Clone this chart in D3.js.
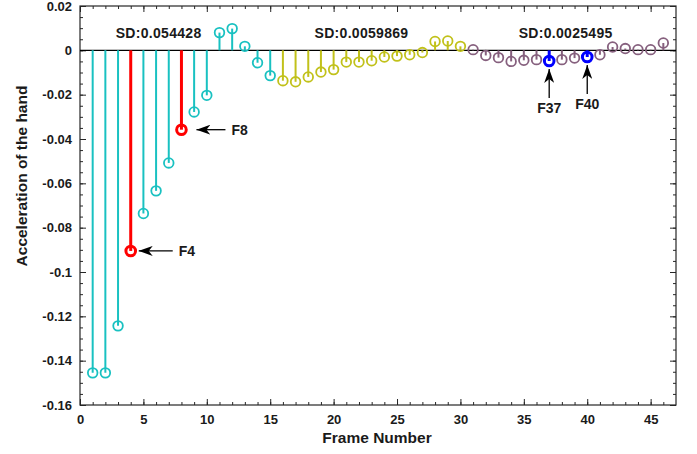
<!DOCTYPE html>
<html>
<head>
<meta charset="utf-8">
<script src="https://cdn.jsdelivr.net/npm/d3@7"></script>
<style>
  body { margin: 0; background: #fff; }
  text { font-family: "Liberation Sans", Arial, sans-serif; font-weight: bold; }
</style>
</head>
<body>
<svg id="chart" width="697" height="454"></svg>
<script>
// frame numbers and hand acceleration
var frames = d3.range(1, 47);
var accel = [
  -0.1455, -0.1455, -0.1243, -0.0905, -0.0736, -0.0634, -0.0508, -0.0358, -0.0278, -0.0203,
   0.0080,  0.0098,  0.0018, -0.0056, -0.0114, -0.0137, -0.0142, -0.0120, -0.0098, -0.0087,
  -0.0053, -0.0053, -0.0047, -0.0030, -0.0026, -0.0020, -0.0010,  0.0040,  0.0042,  0.0018,
   0.0003, -0.0023, -0.0033, -0.0050, -0.0045, -0.0042, -0.0048, -0.0042, -0.0035, -0.0030,
  -0.0020,  0.0015,  0.0008,  0.0003,  0.0003,  0.0033
];
// segments: first frame, last frame, colour, SD label
var segStart = [1, 16, 31];
var segEnd = [15, 30, 46];
var segColor = ["#19c1c1", "#c1c11a", "#86607e"];
var segLabel = ["SD:0.054428", "SD:0.0059869", "SD:0.0025495"];
var segLabelX = [6.2, 22.2, 38.3];

var marked = [4, 8, 37, 40];
var markedColor = ["#ff0000", "#ff0000", "#0000ff", "#0000ff"];
var markedLabel = ["F4", "F8", "F37", "F40"];

var xTicks = [0, 5, 10, 15, 20, 25, 30, 35, 40, 45];
var yTicks = [0.02, 0, -0.02, -0.04, -0.06, -0.08, -0.1, -0.12, -0.14, -0.16];

var svg = d3.select("#chart");
var pLeft = 80, pRight = 676, pTop = 6, pBottom = 405;

var x = d3.scaleLinear().domain([0, 47]).range([pLeft, pRight]);
var y = d3.scaleLinear().domain([-0.16, 0.02]).range([pBottom, pTop]);

function colorOf(f) {
    var k = marked.indexOf(f);
    if (k >= 0) return markedColor[k];
    for (var i = 0; i < segStart.length; i++) {
        if (f >= segStart[i] && f <= segEnd[i]) return segColor[i];
    }
    return "#000";
}

// axes with inward ticks, MATLAB style box
var axisColor = "#262626";
svg.append("g")
    .attr("transform", "translate(0," + pBottom + ")")
    .call(d3.axisBottom(x).tickValues(d3.range(0, 47)).tickSize(-3).tickFormat(""))
    .call(function (g) { g.select(".domain").remove(); });
svg.append("g")
    .attr("transform", "translate(0," + pBottom + ")")
    .call(d3.axisBottom(x).tickValues(xTicks).tickSize(-6).tickPadding(10).tickFormat(d3.format("d")))
    .call(function (g) {
        g.select(".domain").remove();
        g.selectAll("text").attr("font-size", 13).attr("fill", "#1a1a1a");
    });
svg.append("g")
    .attr("transform", "translate(0," + pTop + ")")
    .call(d3.axisTop(x).tickValues(d3.range(0, 47)).tickSize(-3).tickFormat(""))
    .call(function (g) { g.select(".domain").remove(); });
svg.append("g")
    .attr("transform", "translate(0," + pTop + ")")
    .call(d3.axisTop(x).tickValues(xTicks).tickSize(-6).tickFormat(""))
    .call(function (g) { g.select(".domain").remove(); });

var yMinor = d3.range(-0.16, 0.0201, 0.005);
svg.append("g")
    .attr("transform", "translate(" + pLeft + ",0)")
    .call(d3.axisLeft(y).tickValues(yMinor).tickSize(-3).tickFormat(""))
    .call(function (g) { g.select(".domain").remove(); });
svg.append("g")
    .attr("transform", "translate(" + pLeft + ",0)")
    .call(d3.axisLeft(y).tickValues(yTicks).tickSize(-6).tickPadding(8).tickFormat(function (d) { return String(+d.toFixed(2)); }))
    .call(function (g) {
        g.select(".domain").remove();
        g.selectAll("text").attr("font-size", 13).attr("fill", "#1a1a1a");
    });
svg.append("g")
    .attr("transform", "translate(" + pRight + ",0)")
    .call(d3.axisRight(y).tickValues(yMinor).tickSize(-3).tickFormat(""))
    .call(function (g) { g.select(".domain").remove(); });
svg.append("g")
    .attr("transform", "translate(" + pRight + ",0)")
    .call(d3.axisRight(y).tickValues(yTicks).tickSize(-6).tickFormat(""))
    .call(function (g) { g.select(".domain").remove(); });

svg.selectAll(".tick line").attr("stroke", axisColor);

svg.append("rect")
    .attr("x", pLeft).attr("y", pTop)
    .attr("width", pRight - pLeft).attr("height", pBottom - pTop)
    .attr("fill", "none").attr("stroke", axisColor).attr("stroke-width", 1.2);

// baseline
svg.append("line")
    .attr("x1", pLeft).attr("x2", pRight)
    .attr("y1", y(0)).attr("y2", y(0))
    .attr("stroke", "#000").attr("stroke-width", 1.2);

var pts = frames.map(function (f, i) { return { f: f, v: accel[i] }; });

svg.append("g").selectAll("line")
    .data(pts)
    .enter().append("line")
    .attr("x1", function (d) { return x(d.f); })
    .attr("x2", function (d) { return x(d.f); })
    .attr("y1", y(0))
    .attr("y2", function (d) { return y(d.v); })
    .attr("stroke", function (d) { return colorOf(d.f); })
    .attr("stroke-width", function (d) { return marked.indexOf(d.f) >= 0 ? 3 : 2; });

svg.append("g").selectAll("circle")
    .data(pts)
    .enter().append("circle")
    .attr("cx", function (d) { return x(d.f); })
    .attr("cy", function (d) { return y(d.v); })
    .attr("r", 4.8)
    .attr("fill", "none")
    .attr("stroke", function (d) { return colorOf(d.f); })
    .attr("stroke-width", function (d) { return marked.indexOf(d.f) >= 0 ? 3 : 1.8; });

// SD labels
svg.append("g").selectAll("text")
    .data(segLabel)
    .enter().append("text")
    .attr("x", function (d, i) { return x(segLabelX[i]); })
    .attr("y", 38)
    .attr("text-anchor", "middle")
    .attr("font-size", 14)
    .attr("letter-spacing", 0.3)
    .attr("fill", "#1a1a1a")
    .text(function (d) { return d; });

// arrow annotations
svg.append("defs").append("marker")
    .attr("id", "head")
    .attr("viewBox", "0 0 14 10")
    .attr("refX", 14).attr("refY", 5)
    .attr("markerWidth", 14).attr("markerHeight", 10)
    .attr("markerUnits", "userSpaceOnUse")
    .attr("orient", "auto")
    .append("path")
    .attr("d", "M0,0 L14,5 L0,10 L4,5 Z")
    .attr("fill", "#000");

// arrow geometry per label: direction, gap from the marker, arrow length
var annLayout = {
    F4:  { dir: "left", gap: 8,  len: 34 },
    F8:  { dir: "left", gap: 15, len: 29 },
    F37: { dir: "up",   gap: 8,  len: 29 },
    F40: { dir: "up",   gap: 8,  len: 29 }
};

marked.forEach(function (f, i) {
    var lab = markedLabel[i];
    var a = annLayout[lab];
    var cx = x(f), cy = y(accel[f - 1]);
    if (a.dir === "left") {
        svg.append("line")
            .attr("x1", cx + a.gap + a.len).attr("y1", cy)
            .attr("x2", cx + a.gap).attr("y2", cy)
            .attr("stroke", "#000").attr("stroke-width", 1.3)
            .attr("marker-end", "url(#head)");
        svg.append("text")
            .attr("x", cx + a.gap + a.len + 6).attr("y", cy + 5)
            .attr("font-size", 14).attr("fill", "#1a1a1a")
            .text(lab);
    } else {
        svg.append("line")
            .attr("x1", cx).attr("y1", cy + a.gap + a.len)
            .attr("x2", cx).attr("y2", cy + a.gap)
            .attr("stroke", "#000").attr("stroke-width", 1.3)
            .attr("marker-end", "url(#head)");
        svg.append("text")
            .attr("x", cx).attr("y", cy + a.gap + a.len + 15)
            .attr("text-anchor", "middle")
            .attr("font-size", 14).attr("fill", "#1a1a1a")
            .text(lab);
    }
});

// axis titles
svg.append("text")
    .attr("x", 377).attr("y", 443)
    .attr("text-anchor", "middle")
    .attr("font-size", 15.5).attr("fill", "#1a1a1a")
    .text("Frame Number");
svg.append("text")
    .attr("transform", "translate(27,176) rotate(-90)")
    .attr("text-anchor", "middle")
    .attr("font-size", 15.5).attr("fill", "#1a1a1a")
    .text("Acceleration of the hand");
</script>
</body>
</html>
